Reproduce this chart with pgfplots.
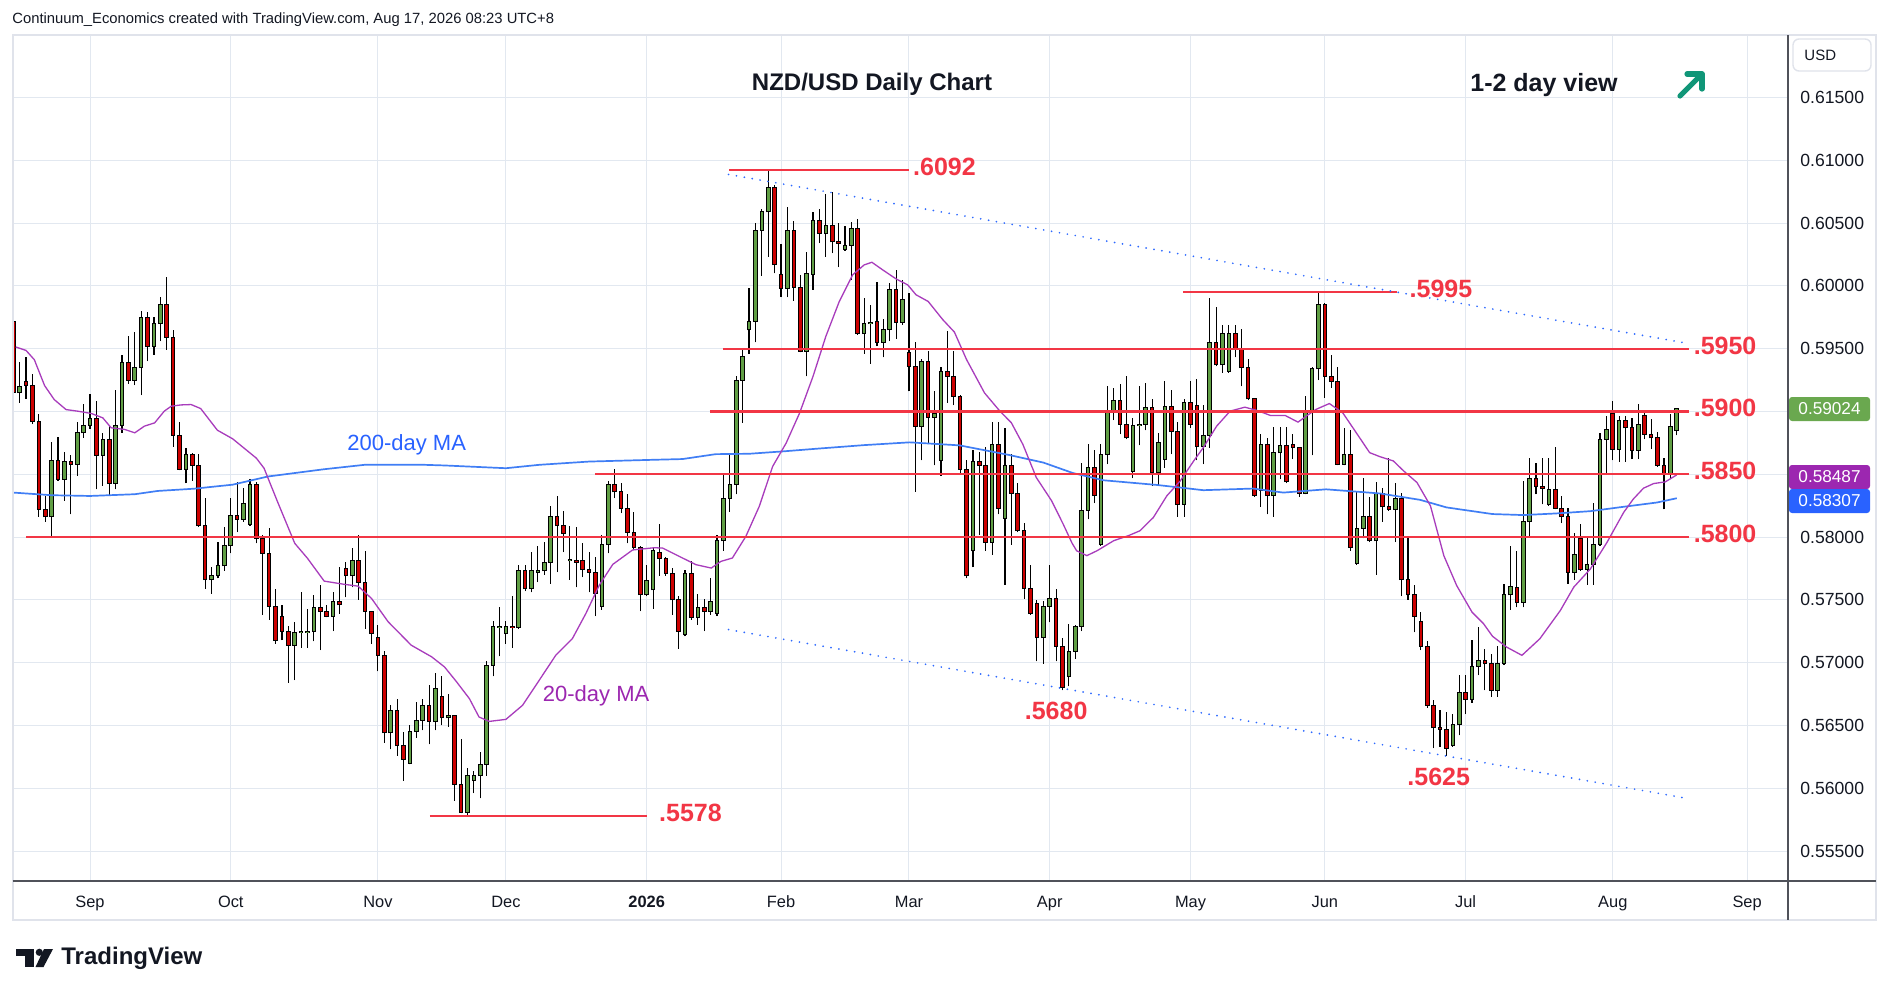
\documentclass[border=0pt]{standalone}
\usepackage{fontspec}
\setmainfont{Liberation Sans}
\usepackage{pgfplots}
\pgfplotsset{compat=1.18}
\usepackage{pgfplotstable}

\definecolor{cgreen}{RGB}{96,158,68}
\definecolor{cred}{RGB}{204,0,0}
\definecolor{lred}{RGB}{242,54,69}
\definecolor{gridc}{RGB}{226,232,240}
\definecolor{ma200}{RGB}{64,126,245}
\definecolor{ma20}{RGB}{168,60,188}
\definecolor{dotc}{RGB}{45,105,255}
\definecolor{framec}{RGB}{224,227,235}
\definecolor{axc}{RGB}{80,82,90}
\definecolor{txtc}{RGB}{19,23,34}
\definecolor{badgeg}{RGB}{106,168,79}
\definecolor{badgep}{RGB}{156,39,176}
\definecolor{badgeb}{RGB}{41,98,255}
\definecolor{arrowc}{RGB}{16,150,120}

\pgfplotstableread{
x o h l c
-12 0.5972 0.5992 0.5908 0.5915
-11 0.5915 0.5939 0.5907 0.5920
-10 0.5924 0.5943 0.5910 0.5921
-9 0.5921 0.5930 0.5890 0.5892
-8 0.5892 0.5898 0.5816 0.5822
-7 0.5822 0.5833 0.5812 0.5816
-6 0.5816 0.5876 0.5800 0.5861
-5 0.5861 0.5880 0.5845 0.5846
-4 0.5846 0.5868 0.5829 0.5860
-3 0.5860 0.5865 0.5818 0.5858
-2 0.5858 0.5892 0.5849 0.5883
-1 0.5883 0.5906 0.5879 0.5889
0 0.5889 0.5914 0.5886 0.5894
1 0.5894 0.5908 0.5838 0.5865
2 0.5865 0.5883 0.5841 0.5878
3 0.5878 0.5889 0.5833 0.5843
4 0.5843 0.5917 0.5838 0.5889
5 0.5889 0.5945 0.5883 0.5939
6 0.5939 0.5960 0.5922 0.5925
7 0.5925 0.5963 0.5921 0.5935
8 0.5935 0.5980 0.5913 0.5975
9 0.5975 0.5979 0.5940 0.5952
10 0.5952 0.5975 0.5945 0.5970
11 0.5970 0.5991 0.5956 0.5985
12 0.5985 0.6007 0.5949 0.5959
13 0.5959 0.5965 0.5872 0.5881
14 0.5881 0.5892 0.5853 0.5854
15 0.5854 0.5871 0.5843 0.5866
16 0.5866 0.5867 0.5845 0.5857
17 0.5857 0.5866 0.5808 0.5809
18 0.5809 0.5831 0.5759 0.5766
19 0.5766 0.5776 0.5755 0.5769
20 0.5769 0.5796 0.5767 0.5777
21 0.5777 0.5808 0.5773 0.5793
22 0.5793 0.5831 0.5787 0.5817
23 0.5817 0.5844 0.5804 0.5814
24 0.5814 0.5839 0.5812 0.5827
25 0.5810 0.5846 0.5809 0.5842
26 0.5842 0.5844 0.5795 0.5799
27 0.5799 0.5802 0.5738 0.5787
28 0.5787 0.5807 0.5734 0.5745
29 0.5745 0.5759 0.5715 0.5718
30 0.5737 0.5746 0.5718 0.5725
31 0.5725 0.5729 0.5684 0.5714
32 0.5714 0.5732 0.5686 0.5724
33 0.5724 0.5756 0.5712 0.5725
34 0.5724 0.5743 0.5712 0.5725
35 0.5725 0.5754 0.5717 0.5744
36 0.5744 0.5762 0.5710 0.5741
37 0.5741 0.5746 0.5736 0.5737
38 0.5737 0.5756 0.5725 0.5749
39 0.5749 0.5776 0.5739 0.5746
40 0.5775 0.5780 0.5752 0.5769
41 0.5769 0.5791 0.5760 0.5781
42 0.5781 0.5802 0.5750 0.5764
43 0.5764 0.5789 0.5727 0.5741
44 0.5741 0.5741 0.5715 0.5723
45 0.5720 0.5730 0.5693 0.5706
46 0.5706 0.5709 0.5636 0.5644
47 0.5644 0.5666 0.5631 0.5662
48 0.5662 0.5671 0.5626 0.5634
49 0.5634 0.5645 0.5606 0.5623
50 0.5620 0.5650 0.5619 0.5645
51 0.5645 0.5669 0.5640 0.5654
52 0.5654 0.5671 0.5646 0.5666
53 0.5666 0.5682 0.5635 0.5653
54 0.5653 0.5692 0.5646 0.5679
55 0.5673 0.5689 0.5650 0.5656
56 0.5656 0.5675 0.5649 0.5658
57 0.5658 0.5658 0.5590 0.5603
58 0.5603 0.5639 0.5580 0.5581
59 0.5581 0.5616 0.5578 0.5610
60 0.5606 0.5614 0.5596 0.5610
61 0.5610 0.5629 0.5592 0.5619
62 0.5619 0.5701 0.5610 0.5698
63 0.5698 0.5733 0.5689 0.5729
64 0.5728 0.5744 0.5705 0.5729
65 0.5723 0.5733 0.5715 0.5729
66 0.5729 0.5753 0.5712 0.5728
67 0.5728 0.5778 0.5727 0.5773
68 0.5773 0.5778 0.5757 0.5759
69 0.5759 0.5788 0.5756 0.5773
70 0.5772 0.5793 0.5764 0.5773
71 0.5773 0.5796 0.5770 0.5780
72 0.5780 0.5825 0.5763 0.5816
73 0.5816 0.5833 0.5772 0.5809
74 0.5809 0.5821 0.5788 0.5803
75 0.5781 0.5809 0.5766 0.5782
76 0.5781 0.5808 0.5760 0.5780
77 0.5781 0.5795 0.5768 0.5774
78 0.5774 0.5788 0.5756 0.5772
79 0.5772 0.5784 0.5737 0.5755
80 0.5745 0.5802 0.5742 0.5794
81 0.5794 0.5845 0.5787 0.5842
82 0.5842 0.5854 0.5831 0.5836
83 0.5836 0.5843 0.5819 0.5823
84 0.5823 0.5834 0.5795 0.5804
85 0.5804 0.5820 0.5790 0.5792
86 0.5792 0.5793 0.5741 0.5754
87 0.5754 0.5778 0.5753 0.5765
88 0.5758 0.5792 0.5743 0.5789
89 0.5788 0.5810 0.5769 0.5783
90 0.5783 0.5784 0.5769 0.5771
91 0.5771 0.5775 0.5738 0.5750
92 0.5750 0.5753 0.5711 0.5725
93 0.5722 0.5774 0.5721 0.5771
94 0.5771 0.5781 0.5734 0.5736
95 0.5736 0.5755 0.5730 0.5744
96 0.5744 0.5751 0.5725 0.5741
97 0.5741 0.5767 0.5738 0.5749
98 0.5739 0.5802 0.5737 0.5797
99 0.5797 0.5850 0.5789 0.5831
100 0.5831 0.5866 0.5820 0.5842
101 0.5842 0.5928 0.5834 0.5925
102 0.5925 0.5950 0.5891 0.5944
103 0.5965 0.5998 0.5946 0.5972
104 0.5972 0.6050 0.5955 0.6044
105 0.6044 0.6061 0.6008 0.6059
106 0.6059 0.6092 0.6023 0.6078
107 0.6078 0.6080 0.6010 0.6017
108 0.6009 0.6033 0.5991 0.5998
109 0.5998 0.6063 0.5991 0.6044
110 0.6044 0.6052 0.5988 0.5999
111 0.5999 0.6009 0.5947 0.5948
112 0.5948 0.6027 0.5928 0.6010
113 0.6009 0.6059 0.5997 0.6052
114 0.6052 0.6061 0.6034 0.6042
115 0.6042 0.6073 0.6023 0.6048
116 0.6048 0.6075 0.6026 0.6035
117 0.6035 0.6050 0.6015 0.6034
118 0.6029 0.6048 0.6028 0.6032
119 0.6032 0.6051 0.6005 0.6046
120 0.6046 0.6053 0.5961 0.5962
121 0.5962 0.5990 0.5946 0.5970
122 0.5970 0.5985 0.5938 0.5971
123 0.5972 0.6003 0.5952 0.5955
124 0.5955 0.5974 0.5943 0.5965
125 0.5965 0.6002 0.5956 0.5997
126 0.5997 0.6013 0.5958 0.5971
127 0.5971 0.6005 0.5969 0.5989
128 0.5947 0.5994 0.5916 0.5936
129 0.5936 0.5955 0.5836 0.5888
130 0.5888 0.5942 0.5861 0.5940
131 0.5940 0.5948 0.5874 0.5895
132 0.5895 0.5916 0.5857 0.5898
133 0.5861 0.5935 0.5849 0.5932
134 0.5932 0.5964 0.5907 0.5928
135 0.5928 0.5948 0.5905 0.5912
136 0.5912 0.5913 0.5851 0.5854
137 0.5854 0.5861 0.5767 0.5769
138 0.5789 0.5869 0.5776 0.5860
139 0.5860 0.5868 0.5802 0.5857
140 0.5857 0.5872 0.5789 0.5796
141 0.5796 0.5892 0.5786 0.5874
142 0.5874 0.5892 0.5818 0.5823
143 0.5815 0.5887 0.5762 0.5857
144 0.5857 0.5866 0.5794 0.5835
145 0.5835 0.5843 0.5804 0.5805
146 0.5805 0.5811 0.5751 0.5759
147 0.5759 0.5778 0.5738 0.5739
148 0.5747 0.5750 0.5701 0.5720
149 0.5720 0.5749 0.5699 0.5745
150 0.5745 0.5778 0.5732 0.5751
151 0.5751 0.5759 0.5701 0.5713
152 0.5713 0.5720 0.5678 0.5680
153 0.5689 0.5731 0.5681 0.5709
154 0.5709 0.5730 0.5703 0.5729
155 0.5729 0.5859 0.5725 0.5821
156 0.5821 0.5874 0.5814 0.5855
157 0.5855 0.5869 0.5827 0.5833
158 0.5794 0.5874 0.5793 0.5866
159 0.5866 0.5920 0.5858 0.5899
160 0.5899 0.5919 0.5893 0.5909
161 0.5909 0.5922 0.5882 0.5890
162 0.5890 0.5928 0.5878 0.5879
163 0.5852 0.5895 0.5847 0.5889
164 0.5889 0.5920 0.5873 0.5890
165 0.5890 0.5923 0.5885 0.5903
166 0.5903 0.5910 0.5841 0.5851
167 0.5851 0.5883 0.5841 0.5875
168 0.5862 0.5924 0.5855 0.5904
169 0.5904 0.5917 0.5866 0.5884
170 0.5884 0.5892 0.5816 0.5826
171 0.5826 0.5910 0.5816 0.5907
172 0.5907 0.5924 0.5887 0.5890
173 0.5905 0.5926 0.5861 0.5872
174 0.5872 0.5905 0.5858 0.5881
175 0.5881 0.5990 0.5871 0.5955
176 0.5955 0.5983 0.5936 0.5937
177 0.5937 0.5969 0.5931 0.5962
178 0.5932 0.5969 0.5931 0.5962
179 0.5962 0.5969 0.5943 0.5950
180 0.5950 0.5966 0.5920 0.5935
181 0.5935 0.5942 0.5909 0.5910
182 0.5910 0.5911 0.5832 0.5833
183 0.5837 0.5882 0.5824 0.5874
184 0.5874 0.5879 0.5818 0.5833
185 0.5833 0.5888 0.5816 0.5867
186 0.5867 0.5888 0.5846 0.5873
187 0.5873 0.5888 0.5843 0.5844
188 0.5874 0.5882 0.5862 0.5871
189 0.5871 0.5872 0.5832 0.5835
190 0.5835 0.5912 0.5834 0.5901
191 0.5901 0.5935 0.5865 0.5934
192 0.5934 0.5995 0.5925 0.5985
193 0.5985 0.5986 0.5911 0.5928
194 0.5928 0.5945 0.5919 0.5924
195 0.5924 0.5935 0.5857 0.5858
196 0.5858 0.5887 0.5857 0.5866
197 0.5866 0.5885 0.5789 0.5792
198 0.5779 0.5837 0.5778 0.5807
199 0.5807 0.5847 0.5799 0.5816
200 0.5816 0.5832 0.5796 0.5797
201 0.5797 0.5844 0.5770 0.5835
202 0.5835 0.5839 0.5812 0.5824
203 0.5824 0.5863 0.5821 0.5822
204 0.5822 0.5843 0.5796 0.5831
205 0.5831 0.5835 0.5753 0.5766
206 0.5766 0.5800 0.5750 0.5754
207 0.5754 0.5762 0.5724 0.5737
208 0.5733 0.5740 0.5710 0.5713
209 0.5713 0.5717 0.5664 0.5666
210 0.5666 0.5670 0.5632 0.5648
211 0.5648 0.5662 0.5633 0.5647
212 0.5647 0.5661 0.5626 0.5632
213 0.5634 0.5659 0.5633 0.5651
214 0.5651 0.5690 0.5642 0.5676
215 0.5676 0.5690 0.5659 0.5671
216 0.5671 0.5718 0.5668 0.5697
217 0.5697 0.5728 0.5690 0.5702
218 0.5702 0.5711 0.5678 0.5699
219 0.5699 0.5707 0.5673 0.5678
220 0.5678 0.5713 0.5673 0.5699
221 0.5699 0.5763 0.5698 0.5754
222 0.5754 0.5793 0.5742 0.5761
223 0.5760 0.5789 0.5744 0.5748
224 0.5748 0.5845 0.5744 0.5812
225 0.5812 0.5863 0.5801 0.5847
226 0.5847 0.5859 0.5834 0.5840
227 0.5840 0.5863 0.5826 0.5839
228 0.5826 0.5863 0.5825 0.5838
229 0.5838 0.5872 0.5822 0.5823
230 0.5823 0.5833 0.5811 0.5816
231 0.5816 0.5823 0.5763 0.5772
232 0.5772 0.5803 0.5766 0.5786
233 0.5799 0.5810 0.5773 0.5774
234 0.5774 0.5799 0.5762 0.5778
235 0.5778 0.5827 0.5762 0.5794
236 0.5794 0.5883 0.5793 0.5878
237 0.5878 0.5896 0.5850 0.5886
238 0.5898 0.5908 0.5861 0.5870
239 0.5870 0.5896 0.5860 0.5893
240 0.5893 0.5896 0.5860 0.5887
241 0.5887 0.5895 0.5862 0.5869
242 0.5869 0.5906 0.5862 0.5890
243 0.5897 0.5900 0.5878 0.5882
244 0.5882 0.5894 0.5870 0.5879
245 0.5879 0.5884 0.5856 0.5857
246 0.5857 0.5863 0.5822 0.5850
247 0.5850 0.5898 0.5846 0.5888
248 0.5885 0.5903 0.5881 0.5902
}\candles

\pgfplotsset{
  cndl/.style={only marks, mark=*, mark size=0pt, mark options={draw=none, fill=none}, forget plot},
}

\begin{document}
\begin{tikzpicture}
\begin{scope}[x=0.5pt,y=-0.5pt]
\path[use as bounding box, fill=white] (0,0) rectangle (1888,996);
\draw[framec, line width=1pt] (12.5,35) rectangle (1876,920);
\end{scope}
\begin{axis}[
  at={(7pt,-440.5pt)}, anchor=south west,
  scale only axis, width=887pt, height=422.5pt,
  xmin=-11.88, xmax=265.39, ymin=0.55261, ymax=0.619897,
  axis line style={draw=none},
  major tick length=0pt,
  xtick={0,22,45,65,87,108,128,150,172,193,215,238,259},
  xticklabels={Sep,Oct,Nov,Dec,\textbf{2026},Feb,Mar,Apr,May,Jun,Jul,Aug,Sep},
  ytick={0.555,0.56,0.565,0.57,0.575,0.58,0.585,0.59,0.595,0.6,0.605,0.61,0.615},
  yticklabel pos=right,
  scaled y ticks=false,
  yticklabel style={/pgf/number format/.cd, fixed, fixed zerofill, precision=5, assume math mode=true, /tikz/.cd, anchor=west, inner sep=0pt, xshift=6pt, font=\fontsize{8.8}{10}\selectfont, text=txtc},
  xticklabel style={anchor=base, inner sep=0pt, yshift=-13pt, font=\fontsize{8.2}{10}\selectfont, text=txtc},
  grid=major, major grid style={gridc, line width=0.5pt},
  clip mode=individual,
]
% wicks
\addplot[cndl, error bars/.cd, y dir=plus, y explicit, error mark=none,
  error bar style={black, line width=0.55pt, line cap=butt}]
  table[x=x, y=l, y error expr={\thisrow{h}-\thisrow{l}}] {\candles};
% body outline
\addplot[cndl, error bars/.cd, y dir=plus, y explicit, error mark=none,
  error bar style={black, line width=2.3pt, line cap=butt}]
  table[x=x, y expr={min(\thisrow{o},\thisrow{c})-0.00004}, y error expr={abs(\thisrow{c}-\thisrow{o})+0.00008}] {\candles};
% green bodies
\addplot[cndl, error bars/.cd, y dir=plus, y explicit, error mark=none,
  error bar style={cgreen, line width=1.3pt, line cap=butt}]
  table[x expr={\thisrow{c}>\thisrow{o} ? \thisrow{x} : nan}, y expr={\thisrow{o}+0.00004}, y error expr={max(\thisrow{c}-\thisrow{o}-0.00008,0)}] {\candles};
% red bodies
\addplot[cndl, error bars/.cd, y dir=plus, y explicit, error mark=none,
  error bar style={cred, line width=1.3pt, line cap=butt}]
  table[x expr={\thisrow{c}<\thisrow{o} ? \thisrow{x} : nan}, y expr={\thisrow{c}+0.00004}, y error expr={max(\thisrow{o}-\thisrow{c}-0.00008,0)}] {\candles};
% 200-day MA
\addplot[ma200, line width=0.85pt] coordinates {
(-12,0.58354) (-6,0.58333) (0,0.58327) (7,0.58341) (10.6,0.58367) (16.3,0.58385) (22.3,0.58417) (27.8,0.58482) (36.6,0.58540) (42.9,0.58575) (52.3,0.58575) (55.4,0.58570) (65,0.58548) (70.2,0.58575) (78,0.58601) (88,0.58615) (92.6,0.58621) (97.8,0.58660) (103,0.58663) (108.3,0.58682) (113.5,0.58703) (121,0.58732) (128.1,0.58754) (135.9,0.58730) (143.7,0.58653) (149,0.58593) (153.6,0.58510) (158.4,0.58452) (166.7,0.58415) (170.4,0.58394) (174,0.58373) (181.8,0.58386) (186.5,0.58354) (193.2,0.58380) (201.6,0.58347) (207.9,0.58296) (212,0.58236) (219.2,0.58183) (224,0.58175) (229.2,0.58188) (234.5,0.58206) (239.7,0.58241) (244.9,0.58275) (248,0.58309)};
% 20-day MA
\addplot[ma20, line width=0.65pt] coordinates {
(-11.6,0.59513) (-10,0.59486) (-8.7,0.59412) (-7.1,0.59206) (-5.6,0.59095) (-3.75,0.59015) (-1.9,0.59002) (0.2,0.58984) (2,0.58949) (3.3,0.58870) (5.4,0.58857) (7,0.58830) (8.5,0.58883) (10.1,0.58909) (11.6,0.59002) (12.7,0.59042) (14.2,0.59052) (15.8,0.59055) (17.3,0.59023) (19.9,0.58851) (22.3,0.58782) (26,0.58628) (27.2,0.58548) (29.3,0.58282) (32,0.57950) (34,0.57830) (36.6,0.57649) (39.8,0.57623) (41.9,0.57609) (44,0.57511) (46.6,0.57325) (50.2,0.57139) (53.4,0.57046) (55.4,0.56966) (57.2,0.56853) (59.3,0.56713) (60.8,0.56567) (62.4,0.56532) (65,0.56548) (67.6,0.56660) (70.2,0.56859) (72.8,0.57059) (75.4,0.57192) (77.5,0.57391) (79.6,0.57617) (81.7,0.57782) (84.8,0.57897) (88.2,0.57915) (89.5,0.57912) (92.1,0.57846) (94.7,0.57780) (97.1,0.57753) (98.6,0.57806) (100.4,0.57833) (102.5,0.58005) (104.6,0.58244) (106.7,0.58563) (108.8,0.58748) (110.9,0.58987) (113,0.59279) (115,0.59597) (117.1,0.59875) (119.2,0.60088) (121,0.60167) (122.2,0.60188) (123.9,0.60127) (126,0.60055) (127.8,0.60008) (129.1,0.59929) (131,0.59876) (133.3,0.59730) (135.1,0.59632) (137,0.59413) (139.8,0.59148) (142.2,0.59003) (144,0.58910) (145.8,0.58738) (147.9,0.58474) (150.3,0.58288) (152.1,0.58103) (153.5,0.57950) (154.2,0.57891) (155.8,0.57852) (157.4,0.57891) (160,0.57971) (162.3,0.58011) (164.1,0.58050) (166.2,0.58156) (168.3,0.58328) (170.4,0.58447) (172.5,0.58606) (174,0.58712) (176.1,0.58884) (178.2,0.59003) (180.5,0.59034) (182.4,0.59008) (184.5,0.58968) (186.8,0.58968) (188.8,0.58915) (190.1,0.58963) (191.6,0.59016) (193.7,0.59063) (195.8,0.58989) (197.9,0.58831) (200,0.58672) (201.6,0.58640) (203.7,0.58606) (205.3,0.58527) (207.4,0.58434) (209.5,0.58249) (211.6,0.57851) (213.6,0.57614) (216,0.57402) (217.8,0.57310) (219.2,0.57210) (221.4,0.57124) (223.8,0.57058) (226.6,0.57190) (229.8,0.57415) (231.9,0.57601) (234.5,0.57746) (237.1,0.57958) (239.7,0.58196) (241.2,0.58302) (242.8,0.58389) (244.4,0.58426) (246.2,0.58439) (248,0.58495)};
% horizontal levels
\addplot[lred, line width=1.1pt] coordinates {(99.9,0.6092) (128,0.6092)};
\addplot[lred, line width=1.1pt] coordinates {(170.9,0.5995) (204.2,0.5995)};
\addplot[lred, line width=1.1pt] coordinates {(98.9,0.5950) (249.9,0.5950)};
\addplot[lred, line width=1.1pt] coordinates {(96.9,0.5900) (249.9,0.5900)};
\addplot[lred, line width=1.1pt] coordinates {(78.9,0.5850) (249.9,0.5850)};
\addplot[lred, line width=1.1pt] coordinates {(-9.96,0.5800) (249.9,0.5800)};
\addplot[lred, line width=1.1pt] coordinates {(53.1,0.5578) (87,0.5578)};
% channel
\addplot[dotc, line width=0.95pt, line cap=round, dash pattern=on 0pt off 4pt] coordinates {(99.8,0.60887) (249.4,0.59545)};
\addplot[dotc, line width=0.95pt, line cap=round, dash pattern=on 0pt off 4pt] coordinates {(99.8,0.57263) (249.4,0.55921)};
% labels
\tikzset{lv/.style={anchor=west, inner sep=0pt, text=lred, font=\bfseries\fontsize{12.5}{14}\selectfont, yshift=1.6pt}}
\node[lv] at (axis cs:128.6,0.6092) {.6092};
\node[lv] at (axis cs:206.2,0.5995) {.5995};
\node[lv] at (axis cs:250.6,0.5950) {.5950};
\node[lv] at (axis cs:250.6,0.5900) {.5900};
\node[lv] at (axis cs:250.6,0.5850) {.5850};
\node[lv] at (axis cs:250.6,0.5800) {.5800};
\node[lv, yshift=0pt] at (axis cs:88.9,0.5578) {.5578};
\node[inner sep=0pt, text=lred, font=\bfseries\fontsize{12.5}{14}\selectfont] at (axis cs:151,0.56619) {.5680};
\node[inner sep=0pt, text=lred, font=\bfseries\fontsize{12.5}{14}\selectfont] at (axis cs:210.8,0.56092) {.5625};
\node[inner sep=0pt, text=badgeb, font=\fontsize{11}{13}\selectfont] at (axis cs:49.5,0.58733) {200-day MA};
\node[inner sep=0pt, text=badgep, font=\fontsize{11}{13}\selectfont] at (axis cs:79.1,0.56734) {20-day MA};
\end{axis}
\begin{scope}[x=0.5pt,y=-0.5pt]
\draw[axc, line width=0.6pt] (12.5,881) -- (1876,881);
\draw[axc, line width=0.6pt] (1788,35) -- (1788,920);
% header
\node[anchor=west, inner sep=0pt, text=txtc, font=\fontsize{7.4}{9}\selectfont] at (12,20) {Continuum\_Economics created with TradingView.com, Aug 17, 2026 08:23 UTC+8};
% title
\node[inner sep=0pt, text=txtc, font=\bfseries\fontsize{12}{14}\selectfont] at (872,84.5) {NZD/USD Daily Chart};
\node[inner sep=0pt, text=txtc, font=\bfseries\fontsize{12.5}{14}\selectfont] at (1544,85.5) {1-2 day view};
\draw[arrowc, line width=2.6pt, line cap=round, line join=round] (1680,96) -- (1701,75);
\draw[arrowc, line width=2.6pt, line cap=round, line join=round] (1687,74) -- (1702,74) -- (1702,89);
% USD box
\draw[framec, line width=0.7pt, fill=white, rounded corners=3pt] (1793,39) rectangle (1871,71);
\node[anchor=west, inner sep=0pt, text=txtc, font=\fontsize{7.5}{9}\selectfont] at (1804,55) {USD};
% badges
\fill[badgeg, rounded corners=1.5pt] (1789,397) rectangle (1870,421);
\node[text=white, inner sep=0pt, font=\fontsize{8.6}{10}\selectfont] at (1829.5,409) {0.59024};
\fill[badgep, rounded corners=1.5pt] (1789,465) rectangle (1870,489);
\node[text=white, inner sep=0pt, font=\fontsize{8.6}{10}\selectfont] at (1829.5,477) {0.58487};
\fill[badgeb, rounded corners=1.5pt] (1789,489) rectangle (1870,513);
\node[text=white, inner sep=0pt, font=\fontsize{8.6}{10}\selectfont] at (1829.5,501) {0.58307};
% TradingView logo
\fill[txtc] (15.6,949) rectangle (33.5,955.5);
\fill[txtc] (24.5,949) rectangle (33.5,967);
\fill[txtc] (39.3,952.3) circle (3.6);
\fill[txtc] (44,949) -- (53,949) -- (43.5,967) -- (35.5,967) -- cycle;
\node[anchor=west, inner sep=0pt, text=txtc, font=\bfseries\fontsize{12}{14}\selectfont] at (61,958.5) {TradingView};
\end{scope}
\end{tikzpicture}
\end{document}
